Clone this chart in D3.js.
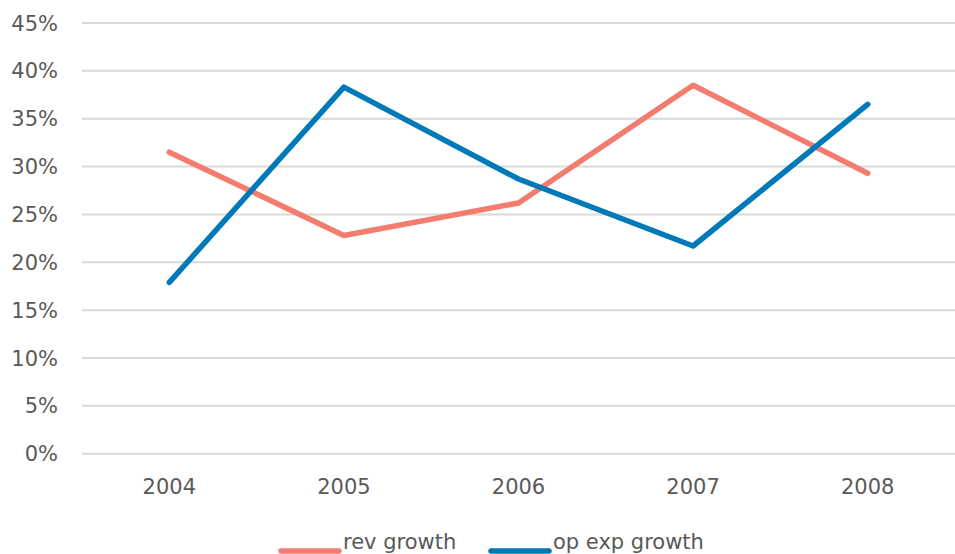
<!DOCTYPE html>
<html>
<head>
<meta charset="utf-8">
<script src="https://cdn.jsdelivr.net/npm/d3@7"></script>
<style>
  html, body { margin: 0; padding: 0; background: #fff; }
  svg text { font-family: "DejaVu Sans", sans-serif; fill: #595959; }
</style>
</head>
<body>
<div id="chart"></div>
<script>
const years = ["2004", "2005", "2006", "2007", "2008"];
const revGrowth = [31.5, 22.8, 26.2, 38.5, 29.3];
const opExpGrowth = [17.9, 38.3, 28.7, 21.7, 36.5];
const yTicks = [0, 5, 10, 15, 20, 25, 30, 35, 40, 45];

const series = [
    { name: "rev growth", values: revGrowth, color: "#F47C6F" },
    { name: "op exp growth", values: opExpGrowth, color: "#0079B8" }
];

const width = 955, height = 554;
const margin = { top: 23, right: 0, bottom: 101, left: 82 };

const svg = d3.select("#chart").append("svg")
    .attr("width", width)
    .attr("height", height);

const x = d3.scaleBand()
    .domain(years)
    .range([margin.left, width - margin.right]);

const y = d3.scaleLinear()
    .domain([0, 45])
    .range([height - margin.bottom + 0.7, margin.top]);

// gridlines
svg.append("g")
    .selectAll("line")
    .data(yTicks)
    .join("line")
    .attr("x1", margin.left)
    .attr("x2", width - margin.right)
    .attr("y1", d => y(d))
    .attr("y2", d => y(d))
    .attr("stroke", "#d9d9d9")
    .attr("stroke-width", 2);

// y labels
svg.append("g")
    .selectAll("text")
    .data(yTicks)
    .join("text")
    .attr("x", 58)
    .attr("y", d => y(d))
    .attr("dy", "0.36em")
    .attr("text-anchor", "end")
    .attr("font-size", 21)
    .text(d => d + "%");

// x labels
svg.append("g")
    .selectAll("text")
    .data(years)
    .join("text")
    .attr("x", d => x(d) + x.bandwidth() / 2)
    .attr("y", 494)
    .attr("text-anchor", "middle")
    .attr("font-size", 21)
    .text(d => d);

const line = d3.line()
    .x((d, i) => x(years[i]) + x.bandwidth() / 2)
    .y(d => y(d));

svg.append("g")
    .selectAll("path")
    .data(series)
    .join("path")
    .attr("d", d => line(d.values))
    .attr("fill", "none")
    .attr("stroke", d => d.color)
    .attr("stroke-width", 5.5)
    .attr("stroke-linecap", "round")
    .attr("stroke-linejoin", "round");

// legend
const legendPos = [281, 491];
const legend = svg.append("g")
    .selectAll("g")
    .data(series)
    .join("g")
    .attr("transform", (d, i) => `translate(${legendPos[i]},551)`);

legend.append("line")
    .attr("x1", 0)
    .attr("x2", 58)
    .attr("stroke", d => d.color)
    .attr("stroke-width", 5.5)
    .attr("stroke-linecap", "round");

legend.append("text")
    .attr("x", 62)
    .attr("y", -2)
    .attr("font-size", 21)
    .text(d => d.name);
</script>
</body>
</html>
